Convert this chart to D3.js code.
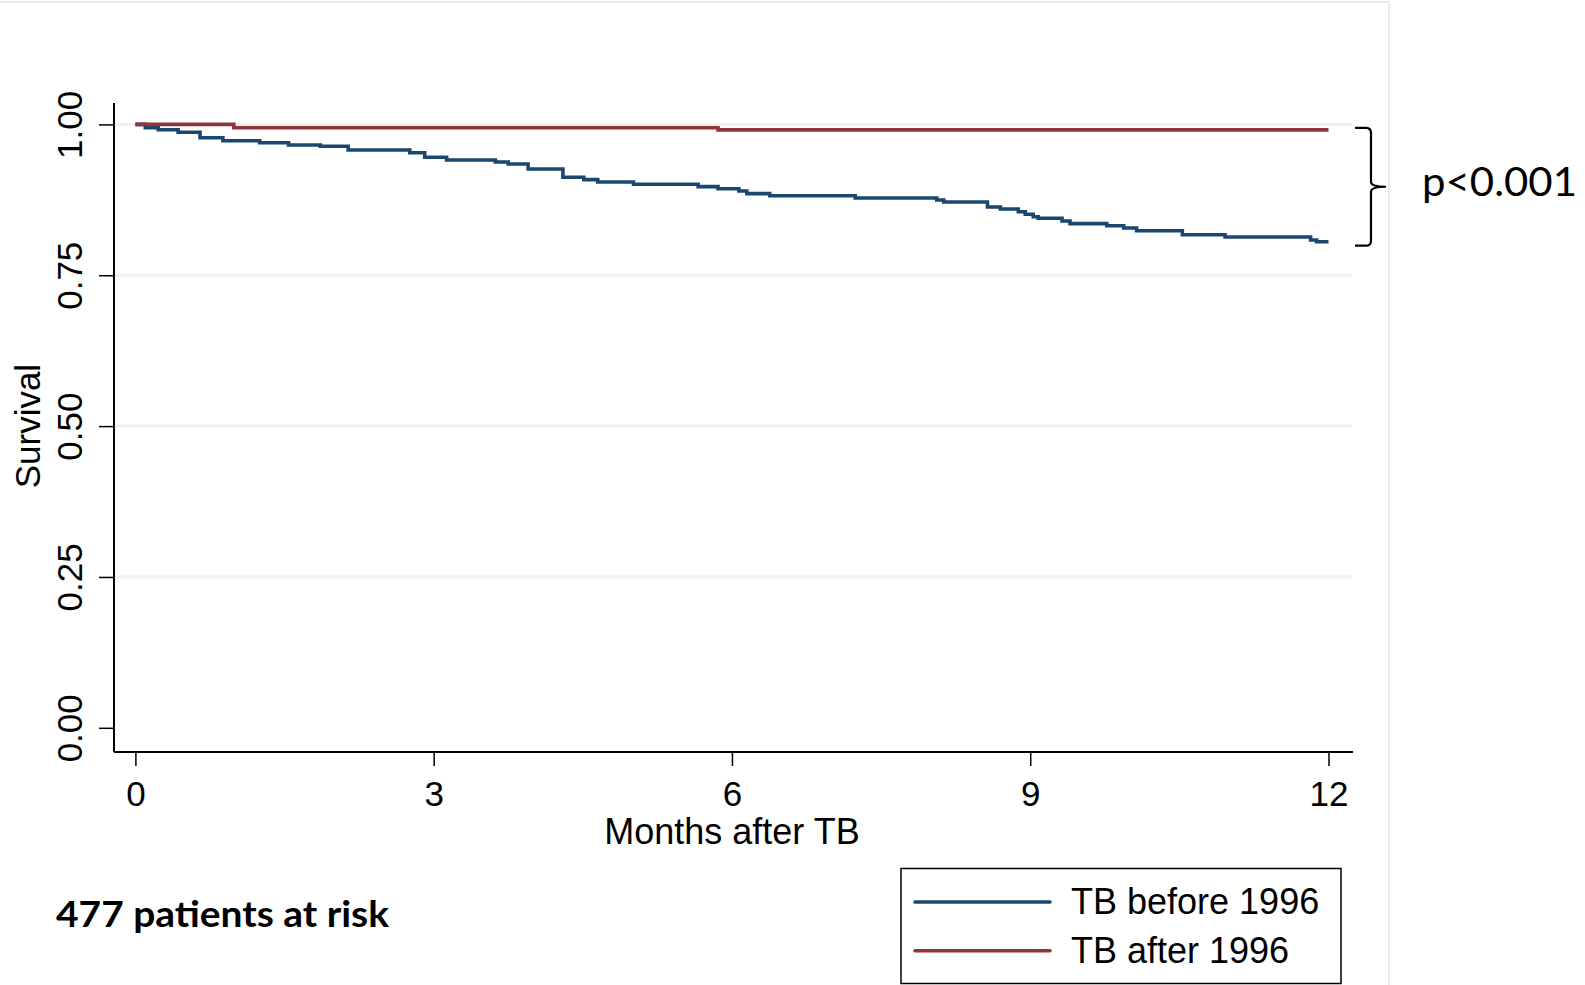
<!DOCTYPE html>
<html>
<head>
    <meta charset="utf-8">
    <title>Survival after TB</title>
    <script src="https://d3js.org/d3.v7.min.js"></script>
    <style>
        body { margin: 0; background: #fff; }
        text { font-family: "Liberation Sans", Arial, sans-serif; fill: #000; }
    </style>
</head>
<body>
<div id="chart"></div>
<script>
    // Kaplan-Meier steps (months, survival)
    var beforeTimes = [0, 0.10, 0.23, 0.43, 0.65, 0.88, 1.25, 1.54, 1.86, 2.14, 2.76, 2.91, 3.13, 3.62, 3.75, 3.95,
        4.30, 4.51, 4.65, 5.01, 5.66, 5.86, 6.07, 6.15, 6.38, 7.24, 8.06, 8.13, 8.57, 8.70, 8.88, 8.95, 9.03, 9.08,
        9.32, 9.40, 9.77, 9.94, 10.07, 10.53, 10.96, 11.82, 11.88, 12];
    var beforeSurv = [1.000, 0.9945, 0.9912, 0.9869, 0.9780, 0.9730, 0.9697, 0.9659, 0.9637, 0.9576, 0.9531, 0.9455,
        0.9410, 0.9377, 0.9344, 0.9261, 0.9123, 0.9084, 0.9045, 0.9007, 0.8968, 0.8934, 0.8896, 0.8852, 0.8818,
        0.8780, 0.8747, 0.8714, 0.8631, 0.8598, 0.8553, 0.8510, 0.8470, 0.8444, 0.8399, 0.8355, 0.8321, 0.8283,
        0.8238, 0.8172, 0.8134, 0.8084, 0.8056, 0.8056];
    var afterTimes = [0, 0.99, 5.86, 12];
    var afterSurv = [1.000, 0.9945, 0.991, 0.991];

    var seriesNames = ["TB before 1996", "TB after 1996"];
    var seriesColors = ["#1a476f", "#90353b"];
    var xTicks = [0, 3, 6, 9, 12];
    var yTicks = [0, 0.25, 0.5, 0.75, 1];

    var W = 1585, H = 985;
    var svg = d3.select("#chart").append("svg")
        .attr("width", W).attr("height", H);

    // faint frame of the pasted graph
    svg.append("rect")
        .attr("x", -2).attr("y", 2).attr("width", 1391).attr("height", H + 10)
        .attr("fill", "none").attr("stroke", "#e6edf1").attr("stroke-width", 2);

    var x = d3.scaleLinear().domain([0, 12]).range([135.4, 1328.5]);
    var y = d3.scaleLinear().domain([0, 1]).range([727.8, 124.4]);

    var axisX = 114, axisY = 752, plotRight = 1353, plotTop = 103;

    // gridlines
    svg.append("g").selectAll("line")
        .data(yTicks.filter(function (d) { return d > 0; }))
        .enter().append("line")
        .attr("x1", axisX).attr("x2", plotRight - 1)
        .attr("y1", function (d) { return y(d); })
        .attr("y2", function (d) { return y(d); })
        .attr("stroke", "#eaf2f3").attr("stroke-width", 3);

    // Y axis
    var gy = svg.append("g")
        .attr("transform", "translate(" + axisX + ",0)")
        .call(d3.axisLeft(y).tickValues(yTicks).tickSize(15).tickSizeOuter(0)
            .tickFormat(d3.format(".2f")));
    gy.select(".domain").remove();
    gy.selectAll(".tick line").attr("stroke", "#000").attr("stroke-width", 1.5);
    gy.selectAll(".tick text")
        .attr("transform", "rotate(-90)")
        .attr("x", 0).attr("y", -32).attr("dy", 0)
        .attr("text-anchor", "middle")
        .style("font-size", "35px");
    svg.append("line")
        .attr("x1", axisX).attr("x2", axisX).attr("y1", plotTop).attr("y2", axisY)
        .attr("stroke", "#000").attr("stroke-width", 2);

    // X axis
    var gx = svg.append("g")
        .attr("transform", "translate(0," + axisY + ")")
        .call(d3.axisBottom(x).tickValues(xTicks).tickSize(14).tickSizeOuter(0));
    gx.select(".domain").remove();
    gx.selectAll(".tick line").attr("stroke", "#000").attr("stroke-width", 1.5);
    gx.selectAll(".tick text")
        .attr("y", 54).attr("dy", 0)
        .style("font-size", "35px");
    svg.append("line")
        .attr("x1", axisX).attr("x2", plotRight).attr("y1", axisY).attr("y2", axisY)
        .attr("stroke", "#000").attr("stroke-width", 2);

    // axis titles
    svg.append("text")
        .attr("x", (x(0) + x(12)) / 2).attr("y", 844)
        .attr("text-anchor", "middle")
        .style("font-size", "36px")
        .text("Months after TB");
    svg.append("text")
        .attr("transform", "translate(40," + y(0.5) + ") rotate(-90)")
        .attr("text-anchor", "middle")
        .style("font-size", "35px")
        .text("Survival");

    // survival curves
    var line = d3.line()
        .x(function (d) { return x(d.t); })
        .y(function (d) { return y(d.s); })
        .curve(d3.curveStepAfter);

    var series = [
        beforeTimes.map(function (t, i) { return { t: t, s: beforeSurv[i] }; }),
        afterTimes.map(function (t, i) { return { t: t, s: afterSurv[i] }; })
    ];

    svg.selectAll("path.km")
        .data(series)
        .enter().append("path")
        .attr("class", "km")
        .attr("d", line)
        .attr("fill", "none")
        .attr("stroke", function (d, i) { return seriesColors[i]; })
        .attr("stroke-width", 3.6);

    // brace + p value
    var bTop = y(afterSurv[afterSurv.length - 1]) - 2,
        bBot = y(beforeSurv[beforeSurv.length - 1]) + 4,
        bMid = (bTop + bBot) / 2;
    svg.append("path")
        .attr("d", "M1355," + bTop + " L1366," + bTop + " Q1371," + bTop + " 1371," + (bTop + 5) +
            " L1371," + (bMid - 5) + " Q1371," + bMid + " 1386," + bMid +
            " Q1371," + bMid + " 1371," + (bMid + 5) +
            " L1371," + (bBot - 5) + " Q1371," + bBot + " 1366," + bBot + " L1355," + bBot)
        .attr("fill", "none").attr("stroke", "#000").attr("stroke-width", 2.2);
    svg.append("text")
        .attr("x", 1422).attr("y", 196)
        .attr("textLength", 155).attr("lengthAdjust", "spacingAndGlyphs")
        .style("font-family", "Lato, 'Open Sans', sans-serif")
        .style("font-size", "40px")
        .text("p<0.001");

    // patients at risk
    svg.append("text")
        .attr("x", 56).attr("y", 927)
        .attr("textLength", 333).attr("lengthAdjust", "spacingAndGlyphs")
        .style("font-family", "Lato, 'Open Sans', sans-serif")
        .style("font-weight", "bold")
        .style("font-size", "37px")
        .text("477 patients at risk");

    // legend
    var lg = svg.append("g");
    lg.append("rect")
        .attr("x", 901).attr("y", 868.5).attr("width", 440).attr("height", 115)
        .attr("fill", "#fff").attr("stroke", "#000").attr("stroke-width", 1.5);
    seriesNames.forEach(function (name, i) {
        var ly = 902 + i * 48.7;
        lg.append("line")
            .attr("x1", 915).attr("x2", 1050).attr("y1", ly).attr("y2", ly)
            .attr("stroke", seriesColors[i]).attr("stroke-width", 3.6)
            .attr("stroke-linecap", "round");
        lg.append("text")
            .attr("x", 1071).attr("y", ly + 12)
            .style("font-size", "36px")
            .text(name);
    });
</script>
</body>
</html>
